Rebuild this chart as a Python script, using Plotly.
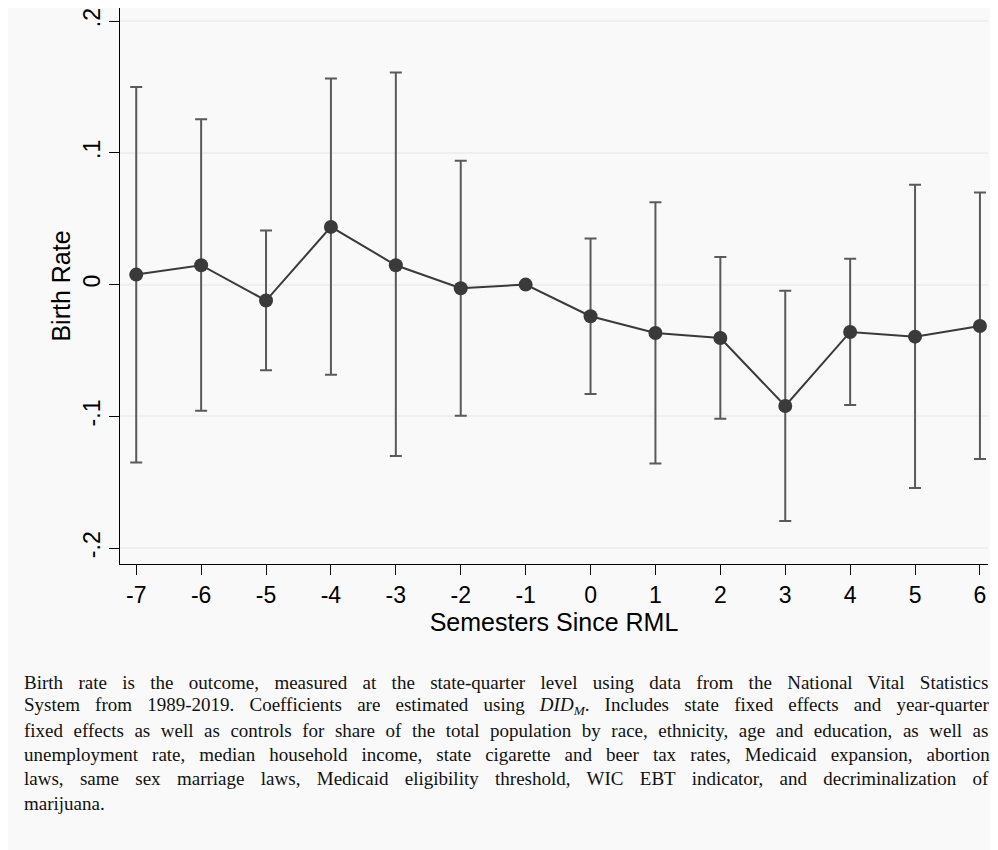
import plotly.graph_objects as go

semesters = [-7, -6, -5, -4, -3, -2, -1, 0, 1, 2, 3, 4, 5, 6]
x_ticktext = ["-7", "-6", "-5", "-4", "-3", "-2", "-1", "0", "1", "2", "3", "4", "5", "6"]
coef = [0.0076, 0.0147, -0.0121, 0.0438, 0.0147, -0.0028, 0.0, -0.024, -0.0367, -0.0405, -0.0921, -0.0359, -0.0395, -0.0314]
ci_upper = [0.150, 0.1255, 0.041, 0.1564, 0.161, 0.0939, 0.0, 0.035, 0.0625, 0.021, -0.0046, 0.0197, 0.0757, 0.0699]
ci_lower = [-0.135, -0.0957, -0.065, -0.0683, -0.130, -0.0995, 0.0, -0.083, -0.1357, -0.1017, -0.1794, -0.0914, -0.1544, -0.1324]

y_tickvals = [-0.2, -0.1, 0, 0.1, 0.2]
y_ticktext = ["-.2", "-.1", "0", ".1", ".2"]

note_lines = [
    "Birth rate is the outcome, measured at the state-quarter level using data from the National Vital Statistics",
    "System from 1989-2019. Coefficients are estimated using <i>DID</i><sub><i>M</i></sub>. Includes state fixed effects and year-quarter",
    "fixed effects as well as controls for share of the total population by race, ethnicity, age and education, as well as",
    "unemployment rate, median household income, state cigarette and beer tax rates, Medicaid expansion, abortion",
    "laws, same sex marriage laws, Medicaid eligibility threshold, WIC EBT indicator, and decriminalization of",
    "marijuana.",
]

TW = {' ': 250, ',': 250, '-': 333, '.': 250, '0': 500, '1': 500, '2': 500, '3': 500, '4': 500,
      '5': 500, '6': 500, '7': 500, '8': 500, '9': 500, 'A': 722, 'B': 667, 'C': 667, 'D': 722,
      'E': 611, 'F': 556, 'G': 722, 'H': 722, 'I': 333, 'J': 389, 'K': 722, 'L': 611, 'M': 889,
      'N': 722, 'O': 722, 'P': 556, 'Q': 722, 'R': 667, 'S': 556, 'T': 611, 'U': 722, 'V': 722,
      'W': 944, 'X': 722, 'Y': 722, 'Z': 611, 'a': 444, 'b': 500, 'c': 444, 'd': 500, 'e': 444,
      'f': 333, 'g': 500, 'h': 500, 'i': 278, 'j': 278, 'k': 500, 'l': 278, 'm': 778, 'n': 500,
      'o': 500, 'p': 500, 'q': 500, 'r': 333, 's': 389, 't': 278, 'u': 500, 'v': 500, 'w': 722,
      'x': 500, 'y': 500, 'z': 444}

NOTE_SIZE = 19
NOTE_TARGET = 966


def natural_width(t):
    t = t.replace("<i>DID</i><sub><i>M</i></sub>", "DID\x01")
    w = 0
    for ch in t:
        if ch == "\x01":
            w += 833 * 0.7
        else:
            w += TW.get(ch, 500)
    return w * NOTE_SIZE / 1000.0


err_plus = [u - c for u, c in zip(ci_upper, coef)]
err_minus = [c - l for c, l in zip(coef, ci_lower)]

BG = "#f9f9f9"
W, H = 982, 842
ML, MR, MT, MB = 112, 2, 0, 286
pw = W - ML - MR
ph = H - MT - MB

fig = go.Figure()
fig.add_trace(go.Scatter(
    x=semesters, y=coef, mode="lines+markers",
    line=dict(color="#3a3a3a", width=2),
    marker=dict(color="#3a3a3a", size=14),
    error_y=dict(type="data", symmetric=False, array=err_plus, arrayminus=err_minus,
                 color="#5a5a5a", thickness=2, width=6),
    showlegend=False, hoverinfo="skip",
))

annotations = []
for i, t in enumerate(note_lines):
    yy = 674 + 24.2 * i
    if i < len(note_lines) - 1:
        nsp = t.count(" ")
        ws = (NOTE_TARGET - natural_width(t)) / nsp
        txt = "<span style='word-spacing:%.2fpx'>%s</span>" % (ws, t)
    else:
        txt = t
    annotations.append(dict(
        text=txt, xref="paper", yref="paper",
        x=(14 - ML) / pw, y=1 - (yy - MT) / ph,
        xanchor="left", yanchor="middle", showarrow=False,
        font=dict(family="Liberation Serif", size=NOTE_SIZE, color="#111111"),
    ))

fig.update_layout(
    width=W, height=H,
    margin=dict(l=ML, r=MR, t=MT, b=MB, pad=0),
    paper_bgcolor=BG, plot_bgcolor=BG,
    font=dict(family="Liberation Sans, Arial, sans-serif", color="#000000"),
    annotations=annotations,
    xaxis=dict(
        range=[-7.25, 6.124], tickmode="array", tickvals=semesters, ticktext=x_ticktext,
        ticks="outside", ticklen=10, tickwidth=1.3, tickcolor="#000",
        showline=True, linecolor="#000", linewidth=1.3,
        showgrid=False, zeroline=False,
        tickfont=dict(size=23, color="#000"),
        title=dict(text="Semesters Since RML", font=dict(size=25, color="#000"), standoff=0),
    ),
    yaxis=dict(
        range=[-0.212, 0.2099], tickmode="array", tickvals=y_tickvals, ticktext=y_ticktext,
        tickangle=-90,
        ticks="outside", ticklen=10, tickwidth=1.3, tickcolor="#000",
        showline=True, linecolor="#000", linewidth=1.3,
        showgrid=True, gridcolor="#efefef", gridwidth=1.5, zeroline=False,
        tickfont=dict(size=23, color="#000"),
        title=dict(text="Birth Rate", font=dict(size=25, color="#000"), standoff=0),
    ),
)

fig.write_html("out.html")
